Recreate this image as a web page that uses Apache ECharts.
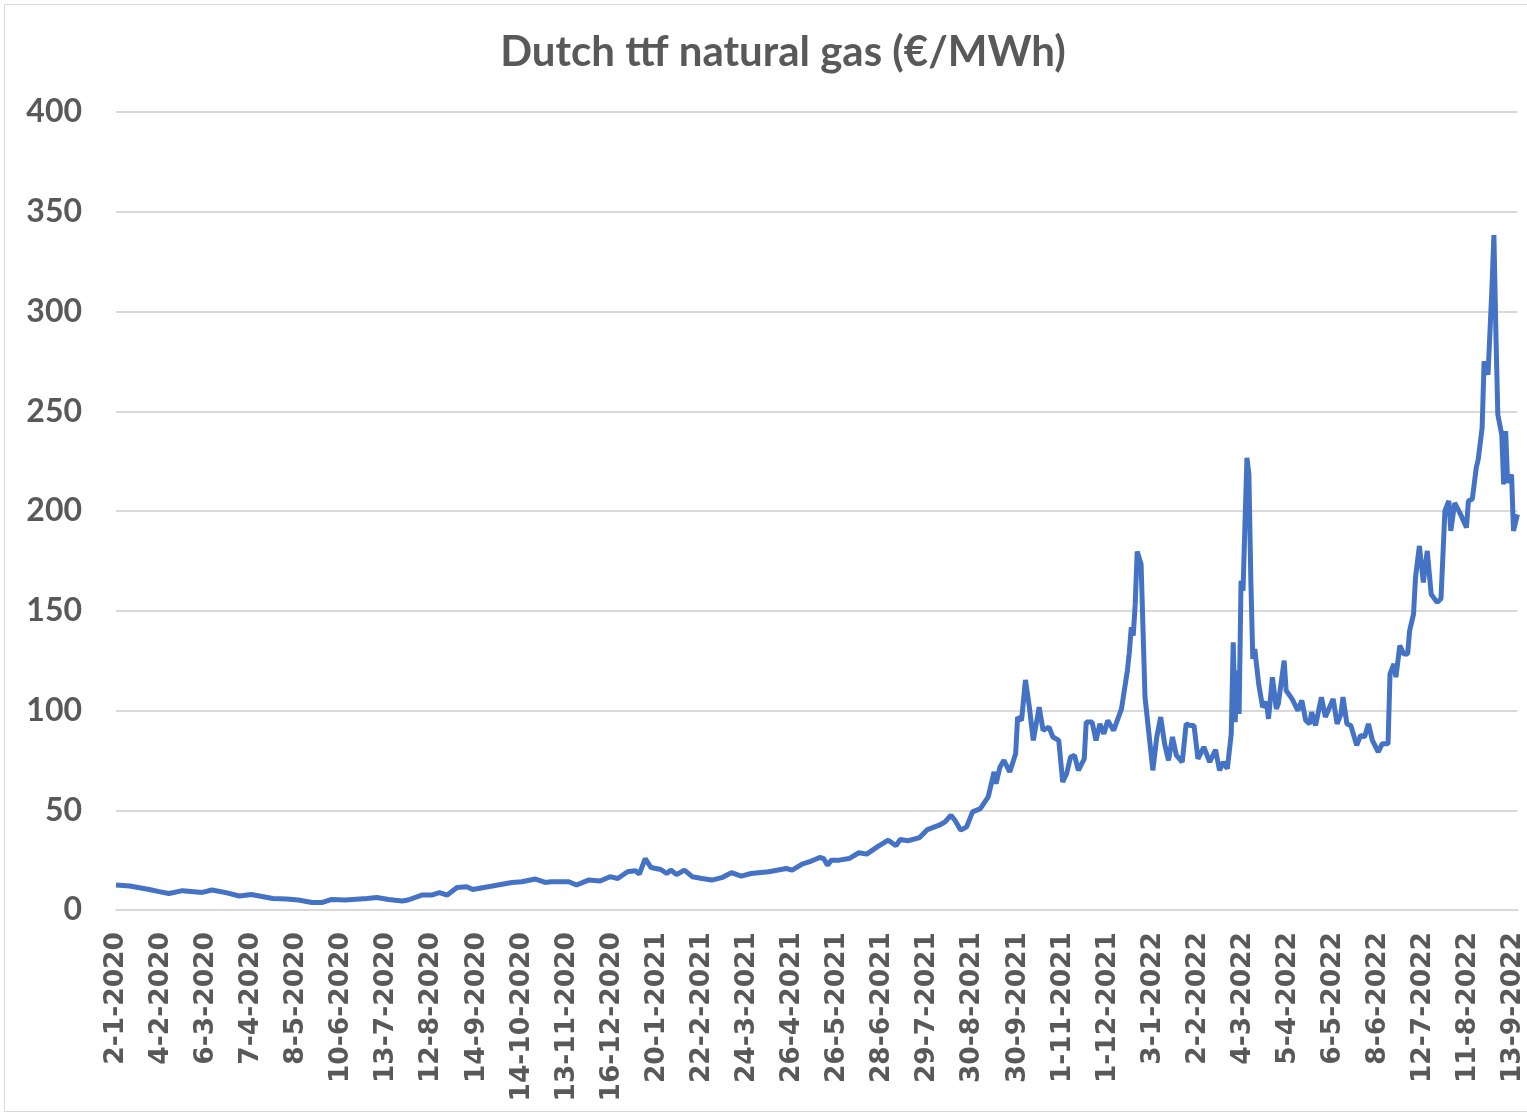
<!DOCTYPE html>
<html>
<head>
<meta charset="utf-8">
<script src="https://cdn.jsdelivr.net/npm/echarts@6/dist/echarts.min.js"></script>
<style>
  html, body { margin: 0; padding: 0; background: #fff; }
  #chart { width: 1527px; height: 1116px; position: relative; }
  .frame { position: absolute; left: 4px; top: 4px; width: 1530px; height: 1108px;
           border: 1px solid #d9d9d9; box-sizing: border-box; pointer-events: none; }
</style>
</head>
<body>
<div id="chart"></div>
<div class="frame"></div>
<script>
  // x tick labels (Excel shows one every 23 trading days)
  var tickLabels = ['2-1-2020', '4-2-2020', '6-3-2020', '7-4-2020', '8-5-2020', '10-6-2020',
    '13-7-2020', '12-8-2020', '14-9-2020', '14-10-2020', '13-11-2020', '16-12-2020',
    '20-1-2021', '22-2-2021', '24-3-2021', '26-4-2021', '26-5-2021', '28-6-2021',
    '29-7-2021', '30-8-2021', '30-9-2021', '1-11-2021', '1-12-2021', '3-1-2022',
    '2-2-2022', '4-3-2022', '5-4-2022', '6-5-2022', '8-6-2022', '12-7-2022',
    '11-8-2022', '13-9-2022'];
  var labelStep = 23;

  // [trading day index, price €/MWh]
  var ttf = [
    [0, 12.5], [7, 12], [17, 10.3], [22, 9.2], [27, 8.3], [34, 9.7], [44, 8.8], [49, 10],
    [56, 8.7], [63, 7], [69, 7.8], [80, 5.8], [87, 5.5], [93, 5], [100, 3.8], [105, 3.7],
    [110, 5.3], [117, 5], [128, 5.8], [133, 6.3], [139, 5.3], [146, 4.5], [149, 5],
    [156, 7.5], [161, 7.5], [165, 8.7], [169, 7.5], [174, 11.3], [179, 11.7], [182, 10.3],
    [192, 12], [202, 13.8], [207, 14.2], [214, 15.5], [219, 13.8], [222, 14.2], [231, 14.2],
    [235, 12.5], [241, 15], [247, 14.5], [252, 16.7], [256, 15.8], [261, 19.2], [265, 19.7],
    [267, 18], [270, 25.8], [273, 21.3], [278, 20.3], [281, 18.3], [283, 20], [286, 17.8],
    [290, 20], [294, 16.7], [299, 15.8], [304, 15], [309, 16.2], [314, 18.7], [319, 17],
    [324, 18.3], [333, 19.2], [342, 20.8], [345, 20], [350, 23], [354, 24.2], [359, 26.3],
    [361, 25.8], [363, 22.5], [365, 25], [369, 25], [374, 25.8], [379, 28.7], [383, 28],
    [389, 32], [394, 35], [398, 32.2], [400, 35.3], [404, 34.7], [410, 36.3], [414, 40.3],
    [420, 42.5], [423, 44.2], [426, 47.5], [428, 45], [431, 40], [434, 41.7], [437, 49.2],
    [441, 50.8], [445, 56.7], [448, 69.2], [449, 63.3], [451, 71.7], [453, 75], [456, 69.2],
    [459, 78.3], [460, 96.7], [462, 95], [464, 115.3], [466, 101.7], [468, 85], [471, 101.7],
    [473, 90], [476, 91.7], [478, 86.7], [481, 85], [483, 64.2], [485, 68.3], [487, 76.7],
    [489, 77.5], [491, 70], [494, 75.8], [495, 94.2], [498, 94.2], [500, 85], [502, 93.3],
    [504, 88.3], [506, 95], [509, 90], [513, 100.8], [514, 101.7], [516, 120], [517, 129.2],
    [518, 141.7], [519, 137.5], [520, 153.3], [521, 179.7], [523, 173.3], [524, 140],
    [525, 106.7], [526, 105.8], [529, 70], [531, 86.7], [533, 96.7], [535, 83.3], [537, 75],
    [539, 86.7], [541, 77.5], [544, 74.2], [546, 93.3], [548, 92.5], [550, 92.5], [552, 75.8],
    [555, 81.7], [558, 74.2], [561, 80.3], [563, 70], [565, 74.2], [567, 70.8], [569, 88.3],
    [570, 134.2], [571, 94.2], [572, 120], [573, 98.3], [574, 165], [575, 160], [577, 226.7],
    [578, 218.3], [579, 165], [580, 125.8], [581, 130.8], [583, 113.3], [584, 114.2],
    [585, 101.7], [587, 104.2], [588, 95.8], [590, 116.7], [592, 100.8], [593, 103.3],
    [596, 125], [597, 110], [600, 105.8], [603, 100], [605, 105], [607, 95], [609, 93.3],
    [610, 99.2], [612, 92.5], [615, 106.7], [617, 96.7], [621, 105.8], [623, 93.3], [625, 98.3],
    [626, 106.7], [628, 93.3], [630, 92.5], [633, 82.5], [635, 87.5], [637, 86.7], [639, 93.3],
    [641, 85], [644, 79.2], [646, 83.3], [649, 83.3], [650, 118.3], [652, 123.3], [653, 116.7],
    [655, 132.5], [657, 128.3], [659, 128.3], [660, 140], [662, 148.3], [663, 166.7],
    [665, 182.5], [667, 164.2], [669, 180], [671, 158.3], [674, 154.2], [676, 156],
    [678, 200], [680, 205], [681, 190], [683, 204], [686, 198.3], [689, 191.7], [690, 205],
    [692, 206], [694, 221.7], [695, 225.8], [697, 241.7], [698, 275], [700, 268.3],
    [702, 311.7], [703, 338.3], [704, 290], [705, 248.3], [707, 238.3], [708, 213.3],
    [709, 240], [710, 214.2], [712, 218.3], [713, 190], [715, 198.3]
  ];

  var chart = echarts.init(document.getElementById('chart'));

  chart.setOption({
    animation: false,
    backgroundColor: '#fff',
    title: {
      text: 'Dutch ttf natural gas (€/MWh)',
      left: 778,
      top: 26,
      textAlign: 'center',
      textStyle: {
        fontFamily: 'Lato',
        fontWeight: 'bold',
        fontSize: 42,
        color: '#595959'
      }
    },
    grid: {
      left: 116,
      right: 8,
      top: 112,
      bottom: 206
    },
    xAxis: {
      type: 'value',
      min: 0,
      max: 715,
      interval: labelStep,
      axisLine: { show: true, lineStyle: { color: '#d9d9d9', width: 2 } },
      axisTick: { show: false },
      splitLine: { show: false },
      axisLabel: {
        rotate: 90,
        margin: 22,
        fontFamily: 'DejaVu Sans',
        fontWeight: 'bold',
        fontSize: 26.5,
        color: '#595959',
        showMaxLabel: false,
        formatter: function (v) {
          if (v % labelStep !== 0) return '';
          return tickLabels[v / labelStep] || '';
        }
      }
    },
    yAxis: {
      type: 'value',
      min: 0,
      max: 400,
      interval: 50,
      axisLine: { show: false },
      axisTick: { show: false },
      splitLine: { lineStyle: { color: '#d9d9d9', width: 2 } },
      axisLabel: {
        margin: 34,
        fontFamily: 'Lato',
        fontWeight: 'bold',
        fontSize: 32,
        color: '#595959'
      }
    },
    series: [{
      name: 'TTF',
      type: 'line',
      data: ttf,
      showSymbol: false,
      lineStyle: { color: '#4472C4', width: 5 },
      itemStyle: { color: '#4472C4' }
    }]
  });
</script>
</body>
</html>
